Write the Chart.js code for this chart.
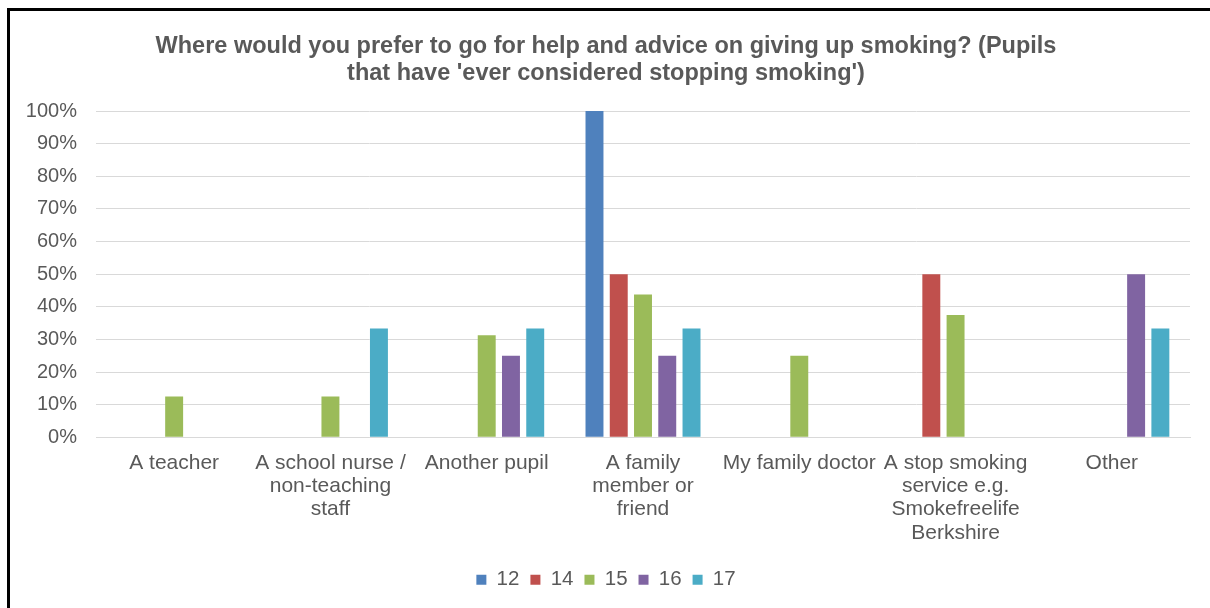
<!DOCTYPE html>
<html>
<head>
<meta charset="utf-8">
<script src="https://cdn.jsdelivr.net/npm/chart.js@4.4.0/dist/chart.umd.min.js"></script>
<style>
  html, body { margin: 0; padding: 0; background: #fff; overflow: hidden; }
  #wrap { position: relative; width: 1210px; height: 608px; }
  #frame { position: absolute; left: 7px; top: 8px; width: 1400px; height: 800px; border: 3px solid #000; pointer-events: none; }
</style>
</head>
<body>
<div id="wrap">
  <canvas id="myChart" width="1210" height="608"></canvas>
  <div id="frame"></div>
</div>
<script>
var categories = [
  "A teacher",
  ["A school nurse /", "non-teaching", "staff"],
  "Another pupil",
  ["A family", "member or", "friend"],
  "My family doctor",
  ["A stop smoking", "service e.g.", "Smokefreelife", "Berkshire"],
  "Other"
];
var seriesNames = ["12", "14", "15", "16", "17"];
var seriesColors = ["#4F81BD", "#C0504D", "#9BBB59", "#8064A2", "#4BACC6"];

// percentages per age
var age12 = [0, 0, 0, 100, 0, 0, 0];
var age14 = [0, 0, 0, 50, 0, 50, 0];
var age15 = [12.5, 12.5, 31.25, 43.75, 25, 37.5, 0];
var age16 = [0, 0, 25, 25, 0, 0, 50];
var age17 = [0, 33.33, 33.33, 33.33, 0, 0, 33.33];
var seriesValues = [age12, age14, age15, age16, age17];

var titleLines = [
  "Where would you prefer to go for help and advice on giving up smoking? (Pupils",
  "that have 'ever considered stopping smoking')"
];

var textColor = "#595959";
var gridColor = "#D9D9D9";

document.addEventListener("DOMContentLoaded", function () {
  var ctx = document.getElementById("myChart").getContext("2d");
  var datasets = seriesNames.map(function (name, i) {
    return {
      label: name,
      data: seriesValues[i],
      backgroundColor: seriesColors[i],
      borderWidth: 0,
      categoryPercentage: 0.776,
      barPercentage: 0.74
    };
  });

  new Chart(ctx, {
    type: "bar",
    data: { labels: categories, datasets: datasets },
    options: {
      responsive: false,
      animation: false,
      layout: { padding: { left: 22, right: 20, top: 0, bottom: 8 } },
      plugins: {
        title: {
          display: true,
          text: titleLines,
          color: textColor,
          font: { family: "Liberation Sans", size: 23.5, weight: "bold", lineHeight: 1.15 },
          padding: { top: 33, bottom: 24 }
        },
        legend: {
          position: "bottom",
          labels: {
            color: textColor,
            font: { family: "Liberation Sans", size: 20.5 },
            boxWidth: 10,
            boxHeight: 10,
            padding: 11
          }
        },
        tooltip: { enabled: false }
      },
      scales: {
        x: {
          grid: { display: false, drawTicks: false },
          border: { display: true, color: gridColor, width: 1 },
          ticks: {
            color: textColor,
            font: { family: "Liberation Sans", size: 21, lineHeight: 1.11 },
            padding: 14,
            maxRotation: 0,
            autoSkip: false
          }
        },
        y: {
          min: 0,
          max: 100,
          afterFit: function (scale) { scale.width = 74; },
          grid: { color: gridColor, lineWidth: 1, drawTicks: false },
          border: { display: false },
          ticks: {
            stepSize: 10,
            color: textColor,
            font: { family: "Liberation Sans", size: 20 },
            padding: 19,
            callback: function (v) { return v + "%"; }
          }
        }
      }
    }
  });
});
</script>
</body>
</html>
